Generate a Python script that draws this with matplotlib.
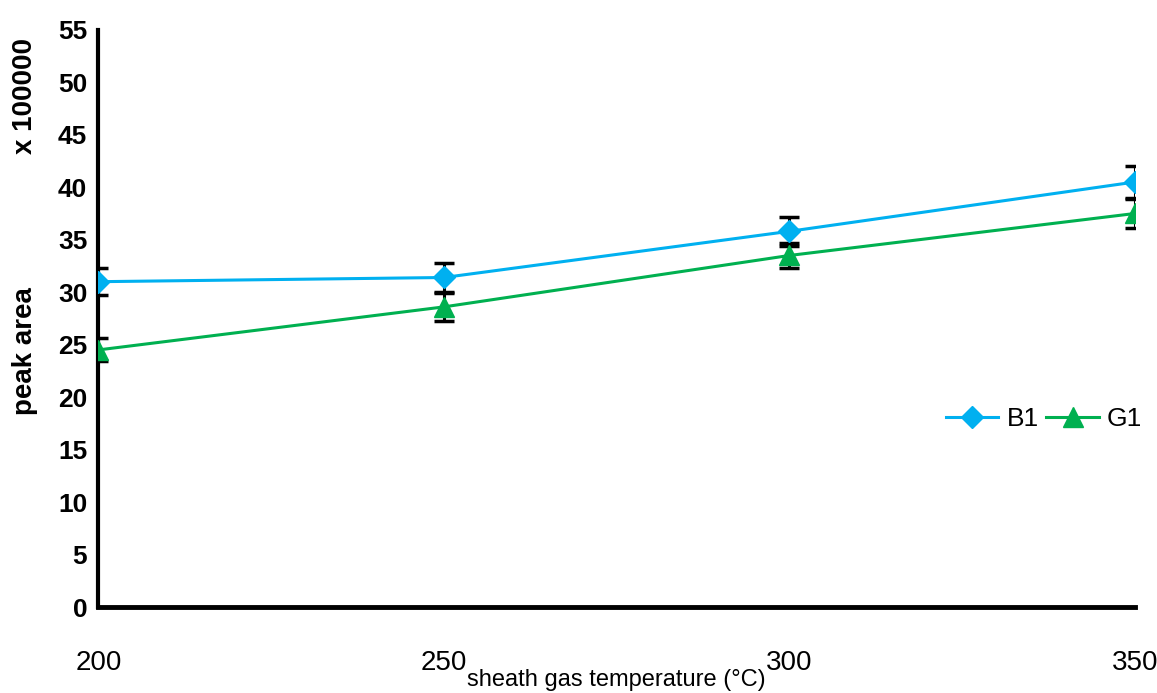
import matplotlib
matplotlib.use("Agg")
import matplotlib.pyplot as plt
from matplotlib import font_manager

# peak areas (x 100000) vs sheath gas temperature
temps = [200, 250, 300, 350]
b1 = [31.0, 31.4, 35.8, 40.5]
b1_err = [1.3, 1.4, 1.4, 1.5]
g1 = [24.5, 28.6, 33.5, 37.5]
g1_err = [1.1, 1.3, 1.2, 1.4]

names = {f.name for f in font_manager.fontManager.ttflist}
NARROW = "Liberation Sans Narrow" if "Liberation Sans Narrow" in names else "Liberation Sans"

C_BLUE, C_GREEN = "#00B0F0", "#00B050"

fig = plt.figure(figsize=(11.57, 6.93), dpi=100)
ax = fig.add_axes([0.085, 0.124, 0.896, 0.833])

ax.errorbar(temps, b1, yerr=b1_err, fmt="none", ecolor="black", elinewidth=2.2,
            capsize=7, capthick=2.5, zorder=2)
ax.errorbar(temps, g1, yerr=g1_err, fmt="none", ecolor="black", elinewidth=2.2,
            capsize=7, capthick=2.5, zorder=2)
ax.plot(temps, b1, color=C_BLUE, lw=2.2, marker="D", ms=11, label="B1", zorder=3)
ax.plot(temps, g1, color=C_GREEN, lw=2.2, marker="^", ms=14, label="G1", zorder=3)

ax.set_xlim(200, 350)
ax.set_ylim(0, 55)
ax.set_xticks(temps)
ax.set_yticks(range(0, 56, 5))
for s in ("top", "right"):
    ax.spines[s].set_visible(False)
ax.spines["left"].set_linewidth(3)
ax.spines["bottom"].set_linewidth(3.5)
ax.tick_params(axis="y", length=0, pad=8)
ax.tick_params(axis="x", length=0, pad=31)
for t in ax.get_yticklabels():
    t.set_fontfamily("Liberation Sans")
    t.set_fontweight("bold")
    t.set_fontsize(19)
for t in ax.get_xticklabels():
    t.set_fontfamily(NARROW)
    t.set_fontsize(20)

ax.text(0.5, -0.107, "sheath gas temperature (°C)", transform=ax.transAxes,
        ha="center", va="top", fontsize=17, family=NARROW)
fig.text(0.022, 0.493, "peak area", rotation=90, ha="center", va="center",
         fontsize=20, fontweight="bold", family="Liberation Sans")
fig.text(0.022, 0.861, "x 100000", rotation=90, ha="center", va="center",
         fontsize=20, fontweight="bold", family="Liberation Sans")

leg = ax.legend(loc="center right", bbox_to_anchor=(1.03, 0.326), ncol=2, frameon=False,
                handlelength=2.0, handletextpad=0.3, columnspacing=0.3,
                prop={"family": NARROW, "size": 19})

fig.savefig("out.png", dpi=100)
